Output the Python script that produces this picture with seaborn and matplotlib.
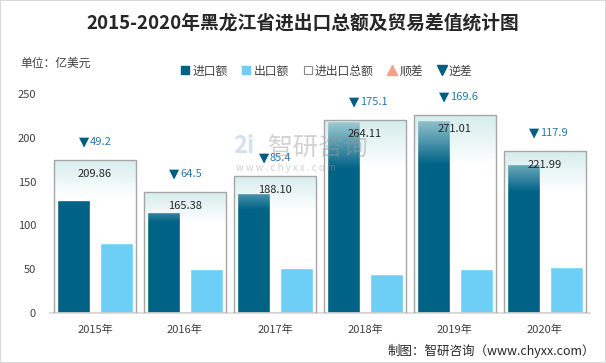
import numpy as np
import pandas as pd
import matplotlib
matplotlib.use("Agg")
import matplotlib.pyplot as plt
import seaborn as sns
from matplotlib.lines import Line2D
from matplotlib.patches import Rectangle

# --- dati (亿美元) ---
years = ["2015年", "2016年", "2017年", "2018年", "2019年", "2020年"]
imports = [129.53, 114.94, 136.75, 219.61, 220.31, 169.95]
exports = [80.33, 50.44, 51.35, 44.51, 50.70, 52.05]
totals = [209.86, 165.38, 188.10, 264.11, 271.01, 221.99]
balance = [49.2, 64.5, 85.4, 175.1, 169.6, 117.9]
deficit = [True, True, True, True, True, True]  # 逆差

C_IMP = "#006386"
C_EXP = "#6dcff6"
C_BOX = "#a6a6a6"
C_UP = "#f4a08a"
C_DOWN = "#005e82"
C_NUM = "#2a78ae"

sns.set_theme(style="white")
plt.rcParams["font.family"] = ["Noto Sans CJK SC", "DejaVu Sans"]

df = pd.DataFrame({
    "年份": years * 2,
    "金额": imports + exports,
    "类型": ["进口额"] * len(years) + ["出口额"] * len(years),
})

fig = plt.figure(figsize=(6.06, 3.63), dpi=100)
ax = fig.add_axes([0.0825, 0.1377, 0.891, 0.603])

sns.barplot(data=df, x="年份", y="金额", hue="类型", palette=[C_IMP, C_EXP],
            width=0.94, gap=0.22, saturation=1, legend=False, ax=ax, errorbar=None)
ax.set_ylim(0, 250)
ax.set_yticks(np.arange(0, 251, 50))
ax.set_xlabel("")
ax.set_ylabel("")
for s in ["top", "right", "left"]:
    ax.spines[s].set_visible(False)
ax.spines["bottom"].set_color("#d9d9d9")
ax.tick_params(axis="both", length=0, labelsize=8, colors="#404040")
ax.tick_params(axis="y", pad=10)
ax.tick_params(axis="x", pad=8)

# totale su asse secondario (0-300)
ax2 = ax.twinx()
sns.barplot(x=years, y=totals, ax=ax2, width=0.92, fill=False, color=C_BOX,
            linewidth=1.0, errorbar=None)
ax2.set_ylim(0, 300)
ax2.set_xlim(ax.get_xlim())
ax2.set_yticks([])
ax2.set_ylabel("")
for s in ax2.spines.values():
    s.set_visible(False)

# sfumatura in alto nei riquadri del totale
n = 200
alpha = np.clip(0.8 * (1 - np.linspace(0, 1, n) / 0.25), 0, None)[::-1]
grad = np.zeros((n, 1, 4))
grad[:, 0, 0] = 0.80
grad[:, 0, 1] = 0.91
grad[:, 0, 2] = 0.91
grad[:, 0, 3] = alpha
for p in list(ax2.patches):
    x0, w, h = p.get_x(), p.get_width(), p.get_height()
    im = ax2.imshow(grad, extent=[x0, x0 + w, 0, h], origin="lower",
                    aspect="auto", zorder=p.get_zorder() - 0.1)
    im.set_clip_path(p)
ax2.set_ylim(0, 300)
ax2.set_xlim(ax.get_xlim())

for i, (t, b, d) in enumerate(zip(totals, balance, deficit)):
    ax2.annotate(f"{t:.2f}", xy=(i, t), xytext=(0, -14), textcoords="offset pixels",
                 ha="center", va="center", fontsize=8, color="#262626")
    ax2.annotate("▼" if d else "▲", xy=(i, t), xytext=(-6, 18), textcoords="offset pixels",
                 ha="right", va="center", fontsize=9.5, color=C_DOWN if d else C_UP,
                 family="DejaVu Sans")
    ax2.annotate(f"{b:.1f}", xy=(i, t), xytext=(-5, 18), textcoords="offset pixels",
                 ha="left", va="center", fontsize=8, color=C_NUM)

# titolo, unità, legenda, fonte
fig.text(0.5, 1 - 23 / 363, "2015-2020年黑龙江省进出口总额及贸易差值统计图",
         ha="center", va="center", fontsize=13.5, fontweight="bold", color="#262626")
fig.text(20 / 606, 1 - 63 / 363, "单位：亿美元", ha="left", va="center",
         fontsize=8.5, color="#404040")

handles = [
    Line2D([], [], marker="s", ls="", color=C_IMP, markersize=5.5),
    Line2D([], [], marker="s", ls="", color=C_EXP, markersize=5.5),
    Line2D([], [], marker="s", ls="", markerfacecolor="white", markeredgecolor="#8c8c8c",
           markeredgewidth=0.8, markersize=5.5),
    Line2D([], [], marker="^", ls="", color=C_UP, markersize=6.5),
    Line2D([], [], marker="v", ls="", color=C_DOWN, markersize=6.5),
]
labels = ["进口额", "出口额", "进出口总额", "顺差", "逆差"]
fig.legend(handles, labels, loc="center", bbox_to_anchor=(327 / 606, 1 - 71 / 363),
           ncol=5, frameon=False, fontsize=8.5, handlelength=0.6, handletextpad=0.3,
           columnspacing=1.3, labelcolor="#404040")

fig.text(595 / 606, 1 - 351 / 363, "制图：智研咨询（www.chyxx.com）", ha="right",
         va="center", fontsize=9, color="#262626")

# filigrana
fig.text(233 / 606, 1 - 146 / 363, "2i", ha="left", va="center", fontsize=17,
         fontweight="bold", color="#b8cde0", alpha=0.6)
fig.text(268 / 606, 1 - 148 / 363, "智研咨询", ha="left", va="center", fontsize=18,
         color="#9a9a9a", alpha=0.45)
fig.text(236 / 606, 1 - 168 / 363, "w w w . c h y x x . c o m", ha="left", va="center",
         fontsize=7, color="#9a9a9a", alpha=0.45)

fig.patches.append(Rectangle((0, 0), 1, 1, transform=fig.transFigure, fill=False,
                             edgecolor="#d9d9d9", linewidth=1.5))

fig.savefig("out.png", dpi=100)
